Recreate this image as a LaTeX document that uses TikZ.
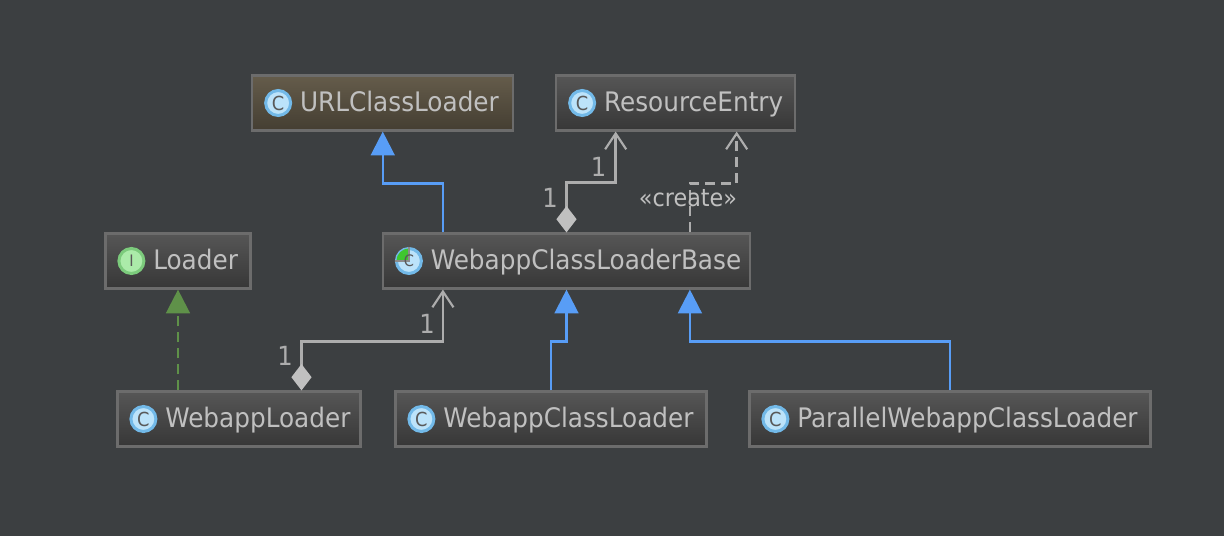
\documentclass[tikz,border=0pt]{standalone}
\usepackage{fontspec}
\setmainfont[FakeStretch=0.92]{DejaVu Sans}
\usetikzlibrary{arrows.meta}
\definecolor{bgdark}{HTML}{3C3F41}
\definecolor{boxedge}{HTML}{6C6C6C}
\definecolor{boxtop}{HTML}{565656}
\definecolor{boxbot}{HTML}{373737}
\definecolor{browntop}{HTML}{655C4B}
\definecolor{brownbot}{HTML}{443E32}
\definecolor{txtgrey}{HTML}{C0C0C0}
\definecolor{linegrey}{HTML}{ADADAD}
\definecolor{inhblue}{HTML}{589DF6}
\definecolor{implgreen}{HTML}{5F9149}
\definecolor{iconblue}{HTML}{BCE3FA}
\definecolor{iconring}{HTML}{72B9E8}
\definecolor{icongreen}{HTML}{ABEBA9}
\definecolor{icongring}{HTML}{7CCB7C}
\definecolor{iconpie}{HTML}{3FC72F}
\def\px{0.02cm}
\tikzset{
  classbox/.style={draw=boxedge, line width=2.2*\px, top color=boxtop, bottom color=boxbot, minimum height=55*\px, inner sep=0pt},
  brownbox/.style={classbox, top color=browntop, bottom color=brownbot},
  classname/.style={anchor=base west, inner sep=0pt, text=txtgrey, font=\fontsize{15.3pt}{16pt}\selectfont},
  iconC/.style={circle, draw=iconring, line width=3*\px, inner sep=0pt, minimum size=25*\px, fill=iconblue, text=black!65, font=\fontsize{11pt}{11pt}\selectfont},
  iconI/.style={iconC, draw=icongring, fill=icongreen, font=\fontsize{9pt}{9pt}\rmfamily},
  iconA/.style={iconC, text=iconblue},
  edgenum/.style={text=linegrey, inner sep=0pt, font=\fontsize{15pt}{16pt}\selectfont},
  inherit/.style={inhblue, line width=2.4*\px, -{Triangle[length=13.5pt,width=13.5pt]}},
  impl/.style={implgreen, line width=2.4*\px, dash pattern=on 10*\px off 6*\px, -{Triangle[length=13.5pt,width=13.5pt,fill=implgreen]}},
  owns/.style={linegrey, line width=2.4*\px, {Diamond[length=15pt,width=11.5pt,fill=txtgrey,color=txtgrey]}-{Straight Barb[length=9pt,width=12pt,line width=1.2pt]}},
  creates/.style={linegrey, line width=2.4*\px, dash pattern=on 10*\px off 6*\px, -{Straight Barb[length=9pt,width=12pt,line width=1.2pt]}}
}
\begin{document}
\begin{tikzpicture}[x=\px, y=-\px]
  \fill[bgdark] (0,0) rectangle (1224,536);
  \useasboundingbox (0,0) rectangle (1224,536);
  \foreach \nm/\xc/\yc/\bw/\txt/\bx/\ic/\ltr in {
    urlLoader/382.75/103/261/URLClassLoader/brownbox/iconC/C,
    resEntry/675.75/103/239/ResourceEntry/classbox/iconC/C,
    loader/178/261/145/Loader/classbox/iconI/I,
    baseLoader/566.5/261/367/WebappClassLoaderBase/classbox/iconA/C,
    webLoader/239/419/243/WebappLoader/classbox/iconC/C,
    appLoader/551/419/311/WebappClassLoader/classbox/iconC/C,
    parLoader/950/419/401/ParallelWebappClassLoader/classbox/iconC/C}
  {
    \node[\bx, minimum width=\bw*\px] (\nm) at (\xc,\yc) {};
    \node[\ic] (\nm-icon) at ([xshift=27*\px]\nm.west) {\ltr};
    \node[classname] (\nm-name) at ([xshift=48.5*\px, yshift=-9*\px]\nm.west) {\txt};
  }
  % green quarter of the abstract class icon
  \fill[iconpie] (baseLoader-icon.center) -- ++(-12.5,0) arc (180:270:12.5) -- cycle;
  \draw[black!45, line width=1.6*\px] (baseLoader-icon.west) -- (baseLoader-icon.center) -- (baseLoader-icon.north);
  \node[text=black!65, inner sep=0pt, font=\fontsize{9pt}{9pt}\selectfont] (baseLoader-letter) at (baseLoader-icon.center) {C};
  % ports along the box edges
  \coordinate (baseUp) at ([xshift=61*\px]baseLoader.north west);
  \coordinate (baseDash) at ([xshift=308*\px]baseLoader.north west);
  \coordinate (baseDown) at ([xshift=61*\px]baseLoader.south west);
  \coordinate (baseMidDown) at ([xshift=308*\px]baseLoader.south west);
  \coordinate (resLeft) at ([xshift=60.5*\px]resEntry.south west);
  \coordinate (resRight) at ([xshift=181.5*\px]resEntry.south west);
  \coordinate (webUp) at ([xshift=62.5*\px]webLoader.north);
  \draw[inherit] (baseUp) -- ++(0,-49) -| (urlLoader.south);
  \draw[inherit] (appLoader.north) -- ++(0,-49) -| (baseLoader.south);
  \draw[inherit] (parLoader.north) -- ++(0,-49) -| (baseMidDown);
  \draw[impl] (webLoader.north -| loader.south) -- (loader.south);
  \draw[owns] (baseLoader.north) -- ++(0,-50) -| (resLeft);
  \draw[owns] (webUp) -- ++(0,-49) -| (baseDown);
  \draw[creates] (baseDash) -- ++(0,-49) -| (resRight);
  \node[edgenum] (numRes) at (598.5,167) {1};
  \node[edgenum] (numBase) at (550,198) {1};
  \node[edgenum] (numUp) at (427,324) {1};
  \node[edgenum] (numWeb) at (285,356) {1};
  \node[edgenum, text=txtgrey, font=\fontsize{13.8pt}{14pt}\selectfont] (createLbl) at (688,198) {«create»};
\end{tikzpicture}
\end{document}
